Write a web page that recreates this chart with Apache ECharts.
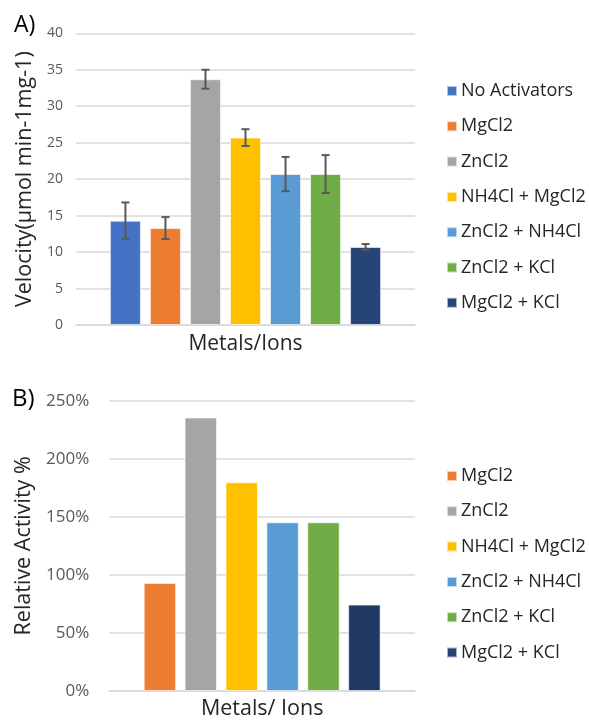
<!DOCTYPE html>
<html>
<head>
<meta charset="utf-8">
<script src="https://cdn.jsdelivr.net/npm/echarts@6/dist/echarts.min.js"></script>
<style>
  html, body { margin: 0; padding: 0; background: #fff; }
  #chart { width: 589px; height: 721px; }
</style>
</head>
<body>
<div id="chart"></div>
<script>
// Panel A: enzyme velocity with each activator (mean ± error)
const seriesNamesA = ['No Activators', 'MgCl2', 'ZnCl2', 'NH4Cl + MgCl2', 'ZnCl2 + NH4Cl', 'ZnCl2 + KCl', 'MgCl2 + KCl'];
const velocity = [14.3, 13.3, 33.7, 25.7, 20.7, 20.7, 10.7];
const velocityErr = [2.5, 1.5, 1.3, 1.15, 2.35, 2.6, 0.4];
const colorsA = ['#4472C4', '#ED7D31', '#A5A5A5', '#FFC000', '#5B9BD5', '#70AD47', '#264478'];

// Panel B: activity relative to the no-activator control (%)
const seriesNamesB = ['MgCl2', 'ZnCl2', 'NH4Cl + MgCl2', 'ZnCl2 + NH4Cl', 'ZnCl2 + KCl', 'MgCl2 + KCl'];
const relActivity = [93, 235.5, 179.7, 145.3, 145.3, 74.4];
const colorsB = ['#ED7D31', '#A5A5A5', '#FFC000', '#5B9BD5', '#70AD47', '#203864'];

const ticksA = { min: 0, max: 40, interval: 5 };
const ticksB = { min: 0, max: 250, interval: 50 };

const FONT = '"Open Sans", "Noto Sans", sans-serif';
const GRID_COLOR = '#d9d9d9';
const LABEL_COLOR = '#595959';
const TITLE_COLOR = '#262626';

const catGapA = 0.20, barGapA = 0.29;
const catGapB = 0.225, barGapB = 0.26;

const chart = echarts.init(document.getElementById('chart'), null, { renderer: 'canvas' });

function barSeries(names, values, colors, axisIdx, catGap, barGap) {
  return names.map((name, i) => ({
    name: name,
    type: 'bar',
    xAxisIndex: axisIdx,
    yAxisIndex: axisIdx,
    data: [values[i]],
    barCategoryGap: (catGap * 100) + '%',
    barGap: (barGap * 100) + '%',
    itemStyle: { color: colors[i], borderColor: 'rgba(255,255,255,0.6)', borderWidth: 1 },
    emphasis: { disabled: true },
    animation: false,
    z: 2
  }));
}

// Error bars placed over each bar of the single category, using the same
// band width / gap fractions the bar layout uses.
const errorSeries = {
  type: 'custom',
  name: 'error',
  xAxisIndex: 0,
  yAxisIndex: 0,
  data: velocity.map((v, i) => [0, v - velocityErr[i], v + velocityErr[i], i]),
  renderItem: function (params, api) {
    const idx = api.value(3);
    const n = velocity.length;
    const band = api.size([1, 0])[0];
    const usable = band * (1 - catGapA);
    const w = usable / (n + (n - 1) * barGapA);
    const center = api.coord([0, 0])[0];
    const x = center - usable / 2 + idx * w * (1 + barGapA) + w / 2;
    const lo = api.coord([0, api.value(1)])[1];
    const hi = api.coord([0, api.value(2)])[1];
    const cap = 4;
    const style = { stroke: '#595959', lineWidth: 2 };
    return {
      type: 'group',
      children: [
        { type: 'line', shape: { x1: x, y1: lo, x2: x, y2: hi }, style: style },
        { type: 'line', shape: { x1: x - cap, y1: lo, x2: x + cap, y2: lo }, style: style },
        { type: 'line', shape: { x1: x - cap, y1: hi, x2: x + cap, y2: hi }, style: style }
      ]
    };
  },
  z: 5,
  animation: false,
  silent: true
};

function yAxisCfg(gridIdx, t, fmt, labelSize, labelMargin, name, nameGap, nameSize) {
  return {
    type: 'value',
    gridIndex: gridIdx,
    min: t.min, max: t.max, interval: t.interval,
    axisLine: { show: false },
    axisTick: { show: false },
    splitLine: { lineStyle: { color: GRID_COLOR, width: 1.5 } },
    axisLabel: { color: LABEL_COLOR, fontFamily: FONT, fontSize: labelSize, margin: labelMargin, formatter: fmt },
    name: name,
    nameLocation: 'middle',
    nameGap: nameGap,
    nameRotate: 90,
    nameTextStyle: { color: TITLE_COLOR, fontFamily: FONT, fontSize: nameSize }
  };
}

function xAxisCfg(gridIdx, name, nameGap, nameSize) {
  return {
    type: 'category',
    gridIndex: gridIdx,
    data: [''],
    axisLine: { show: true, lineStyle: { color: GRID_COLOR, width: 1.5 } },
    axisTick: { show: false },
    axisLabel: { show: false },
    name: name,
    nameLocation: 'middle',
    nameGap: nameGap,
    nameTextStyle: { color: TITLE_COLOR, fontFamily: FONT, fontSize: nameSize }
  };
}

function legendCfg(names, top) {
  return {
    orient: 'vertical',
    left: 441,
    top: top,
    data: names,
    icon: 'rect',
    itemWidth: 10,
    itemHeight: 10,
    itemGap: 15.3,
    selectedMode: false,
    textStyle: { color: TITLE_COLOR, fontFamily: FONT, fontSize: 18, lineHeight: 20, padding: [0, 0, 0, -1] }
  };
}

chart.setOption({
  animation: false,
  backgroundColor: '#ffffff',
  grid: [
    { left: 76, right: 174, top: 33.3, bottom: 396 },
    { left: 109.3, right: 174, top: 400.7, bottom: 29 }
  ],
  xAxis: [
    xAxisCfg(0, 'Metals/Ions', 9, 21),
    xAxisCfg(1, 'Metals/ Ions', 7, 21.5)
  ],
  yAxis: [
    yAxisCfg(0, ticksA, '{value}', 14, 13, 'Velocity(µmol min-1mg-1)', 33, 21.5),
    yAxisCfg(1, ticksB, '{value}%', 17, 20, 'Relative Activity %', 72, 21.5)
  ],
  legend: [
    legendCfg(seriesNamesA, 76),
    legendCfg(seriesNamesB, 461)
  ],
  graphic: [
    { type: 'text', x: 14, y: 25, style: { text: 'A)', fill: '#000', font: '23px ' + FONT, textVerticalAlign: 'middle' } },
    { type: 'text', x: 12, y: 399, style: { text: 'B)', fill: '#000', font: '24px ' + FONT, textVerticalAlign: 'middle' } }
  ],
  series: [
    ...barSeries(seriesNamesA, velocity, colorsA, 0, catGapA, barGapA),
    errorSeries,
    ...barSeries(seriesNamesB, relActivity, colorsB, 1, catGapB, barGapB)
  ]
});
</script>
</body>
</html>
